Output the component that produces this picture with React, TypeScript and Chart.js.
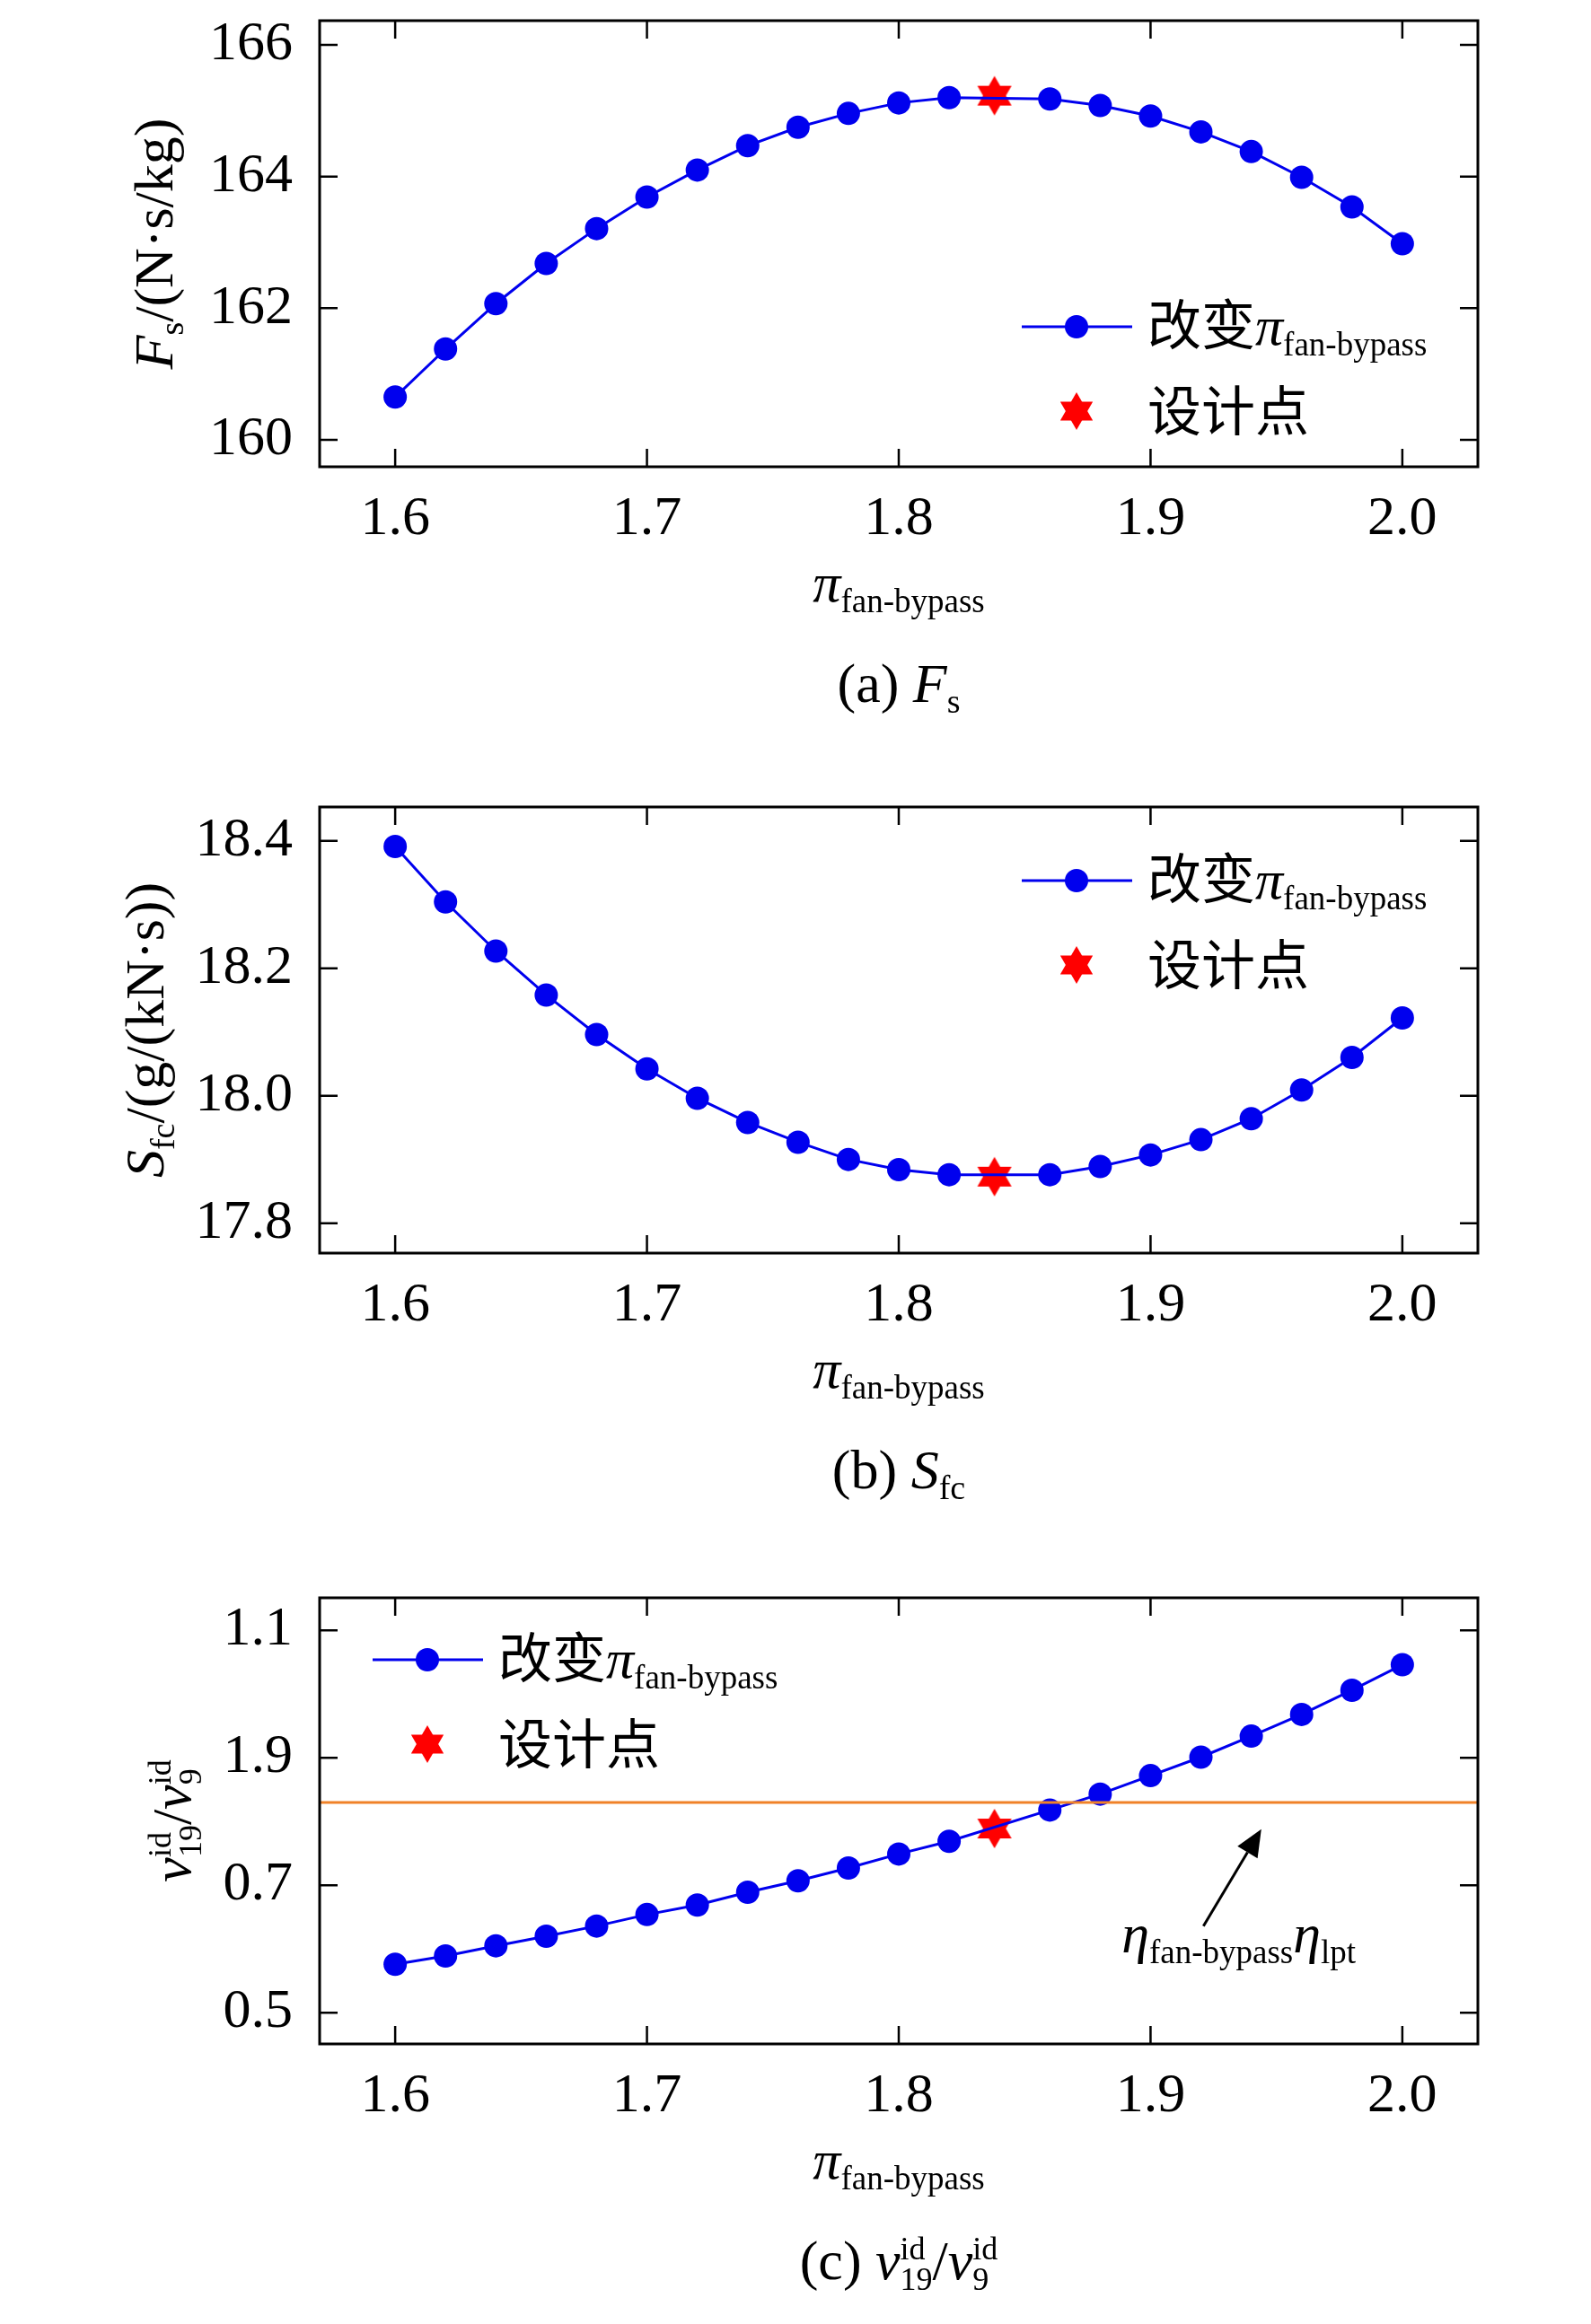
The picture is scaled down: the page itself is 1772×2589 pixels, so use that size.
import React, { useEffect, useRef } from "react";
import { Chart, registerables } from "chart.js";
Chart.register(...registerables);

const xVals = [1.60,1.62,1.64,1.66,1.68,1.70,1.72,1.74,1.76,1.78,1.80,1.82,1.86,1.88,1.90,1.92,1.94,1.96,1.98,2.00];
const fsVals = [160.65,161.38,162.07,162.68,163.21,163.69,164.10,164.47,164.75,164.96,165.12,165.20,165.18,165.08,164.92,164.68,164.38,163.99,163.54,162.98];
const sfcVals = [18.391,18.304,18.227,18.158,18.096,18.042,17.996,17.958,17.927,17.900,17.884,17.876,17.876,17.889,17.907,17.931,17.964,18.009,18.060,18.122];
const vVals = [0.576,0.589,0.605,0.620,0.636,0.654,0.669,0.689,0.707,0.727,0.749,0.769,0.818,0.843,0.872,0.901,0.934,0.968,1.006,1.046];
const designX = 1.838;
const designFs = 165.23;
const designSfc = 17.873;
const designV = 0.789;
const refLineV = 0.83;
const xTicks = [1.6, 1.7, 1.8, 1.9, 2.0];
const fsTicks = [160, 162, 164, 166];
const sfcTicks = [17.8, 18.0, 18.2, 18.4];
const vTicks = [0.5, 0.7, 0.9, 1.1];
const vTickLabels = ["0.5", "0.7", "1.9", "1.1"];

const SERIF = '"Liberation Serif", "Times New Roman", serif';
const CJK = '"Noto Sans CJK SC", sans-serif';
const BLUE = "#0000ee";
const F = (s: number, it = false) => `${it ? "italic " : ""}${s}px ${SERIF}`;

type Seg = { t?: string; font?: string; dy?: number; stack?: [string, string] };

function richWidth(ctx: CanvasRenderingContext2D, segs: Seg[]) {
  let w = 0;
  for (const s of segs) {
    ctx.font = s.font || F(60);
    if (s.stack) w += Math.max(ctx.measureText(s.stack[0]).width, ctx.measureText(s.stack[1]).width);
    else w += ctx.measureText(s.t || "").width;
  }
  return w;
}
function drawRich(ctx: CanvasRenderingContext2D, segs: Seg[], x: number, y: number, align: "left" | "center") {
  let cx = align === "center" ? x - richWidth(ctx, segs) / 2 : x;
  ctx.textBaseline = "alphabetic";
  ctx.textAlign = "left";
  ctx.fillStyle = "#000";
  for (const s of segs) {
    ctx.font = s.font || F(60);
    if (s.stack) {
      ctx.fillText(s.stack[0], cx, y - 22);
      ctx.fillText(s.stack[1], cx, y + 12);
      cx += Math.max(ctx.measureText(s.stack[0]).width, ctx.measureText(s.stack[1]).width);
    } else {
      ctx.fillText(s.t || "", cx, y + (s.dy || 0));
      cx += ctx.measureText(s.t || "").width;
    }
  }
}

function makeStar(r: number, color: string) {
  const c = document.createElement("canvas");
  c.width = c.height = r * 2 + 2;
  const g = c.getContext("2d")!;
  g.fillStyle = color;
  const cx = r + 1, cy = r + 1;
  for (const off of [-Math.PI / 2, Math.PI / 2]) {
    g.beginPath();
    for (let i = 0; i < 3; i++) {
      const a = off + (i * 2 * Math.PI) / 3;
      const px = cx + r * Math.cos(a), py = cy + r * Math.sin(a);
      i ? g.lineTo(px, py) : g.moveTo(px, py);
    }
    g.closePath();
    g.fill();
  }
  return c;
}

const piSub: Seg[] = [
  { t: "π", font: F(62, true) },
  { t: "fan-bypass", font: F(37), dy: 12 },
];

type Cfg = {
  top: number;
  values: number[];
  dy: number;
  ymin: number;
  ymax: number;
  yticks: number[];
  ylabels: string[];
  yTitle: Seg[];
  yTitleX: number;
  caption: Seg[];
  legendX: number;
  legendY: number;
  refLine?: boolean;
};

const PL = 356, PR = 1646, PH = 515, PT = 5, CH = 810;

const panels: Cfg[] = [
  {
    top: 0, values: fsVals, dy: designFs, ymin: 159.59, ymax: 166.37, yticks: fsTicks,
    ylabels: fsTicks.map(String),
    yTitle: [{ t: "F", font: F(62, true) }, { t: "s", font: F(38), dy: 12 }, { t: "/(N·s/kg)", font: F(62) }],
    yTitleX: 172,
    caption: [{ t: "(a) ", font: F(62) }, { t: "F", font: F(62, true) }, { t: "s", font: F(38), dy: 12 }],
    legendX: 782, legendY: 341,
  },
  {
    top: 876, values: sfcVals, dy: designSfc, ymin: 17.753, ymax: 18.453, yticks: sfcTicks,
    ylabels: sfcTicks.map((v) => v.toFixed(1)),
    yTitle: [{ t: "S", font: F(62, true) }, { t: "fc", font: F(38), dy: 12 }, { t: "/(g/(kN·s))", font: F(62) }],
    yTitleX: 162,
    caption: [{ t: "(b) ", font: F(62) }, { t: "S", font: F(62, true) }, { t: "fc", font: F(38), dy: 12 }],
    legendX: 782, legendY: 82,
  },
  {
    top: 1757, values: vVals, dy: designV, ymin: 0.451, ymax: 1.151, yticks: vTicks,
    ylabels: vTickLabels,
    yTitle: [{ t: "v", font: F(62, true) }, { stack: ["id", "19"], font: F(36) }, { t: "/", font: F(62) }, { t: "v", font: F(62, true) }, { stack: ["id", "9"], font: F(36) }],
    yTitleX: 192,
    caption: [{ t: "(c) ", font: F(62) }, { t: "v", font: F(62, true) }, { stack: ["id", "19"], font: F(36) }, { t: "/", font: F(62) }, { t: "v", font: F(62, true) }, { stack: ["id", "9"], font: F(36) }],
    legendX: 59, legendY: 69, refLine: true,
  },
];

function Panel({ cfg }: { cfg: Cfg }) {
  const ref = useRef<HTMLCanvasElement>(null);
  useEffect(() => {
    const star = makeStar(22, "#ff0000");
    const legendStar = makeStar(21, "#ff0000");
    const deco = {
      id: "deco",
      afterDraw(chart: any) {
        const ctx: CanvasRenderingContext2D = chart.ctx;
        const a = chart.chartArea;
        const xs = chart.scales.x, ys = chart.scales.y;
        ctx.save();
        ctx.strokeStyle = "#000";
        ctx.lineWidth = 3;
        ctx.strokeRect(a.left, a.top, a.right - a.left, a.bottom - a.top);
        ctx.lineWidth = 2.5;
        ctx.beginPath();
        for (const v of xTicks) {
          const p = xs.getPixelForValue(v);
          ctx.moveTo(p, a.bottom); ctx.lineTo(p, a.bottom - 20);
          ctx.moveTo(p, a.top); ctx.lineTo(p, a.top + 20);
        }
        for (const v of cfg.yticks) {
          const p = ys.getPixelForValue(v);
          ctx.moveTo(a.left, p); ctx.lineTo(a.left + 20, p);
          ctx.moveTo(a.right, p); ctx.lineTo(a.right - 20, p);
        }
        ctx.stroke();
        const lx = a.left + cfg.legendX, ly = a.top + cfg.legendY;
        ctx.strokeStyle = BLUE; ctx.lineWidth = 3;
        ctx.beginPath(); ctx.moveTo(lx, ly); ctx.lineTo(lx + 123, ly); ctx.stroke();
        ctx.fillStyle = BLUE;
        ctx.beginPath(); ctx.arc(lx + 61, ly, 13, 0, Math.PI * 2); ctx.fill();
        const tx = lx + 140;
        drawRich(ctx, [{ t: "改变", font: `60px ${CJK}` }, ...piSub], tx, ly + 20, "left");
        ctx.drawImage(legendStar, lx + 61 - 22, ly + 94 - 22);
        drawRich(ctx, [{ t: "设计点", font: `60px ${CJK}` }], tx, ly + 116, "left");
        const midX = (a.left + a.right) / 2;
        drawRich(ctx, piSub, midX, a.bottom + 150, "center");
        drawRich(ctx, cfg.caption, midX, a.bottom + 262, "center");
        ctx.save();
        ctx.translate(cfg.yTitleX, (a.top + a.bottom) / 2);
        ctx.rotate(-Math.PI / 2);
        drawRich(ctx, cfg.yTitle, 0, 20, "center");
        ctx.restore();
        if (cfg.refLine) {
          const x0 = xs.getPixelForValue(1.921), y0 = ys.getPixelForValue(0.636);
          const x1 = xs.getPixelForValue(1.944), y1 = ys.getPixelForValue(0.788);
          ctx.strokeStyle = "#000"; ctx.fillStyle = "#000"; ctx.lineWidth = 3;
          const ang = Math.atan2(y1 - y0, x1 - x0);
          const hx = x1 - 30 * Math.cos(ang), hy = y1 - 30 * Math.sin(ang);
          ctx.beginPath(); ctx.moveTo(x0, y0); ctx.lineTo(hx, hy); ctx.stroke();
          ctx.beginPath();
          ctx.moveTo(x1, y1);
          ctx.lineTo(hx + 13 * Math.sin(ang), hy - 13 * Math.cos(ang));
          ctx.lineTo(hx - 13 * Math.sin(ang), hy + 13 * Math.cos(ang));
          ctx.closePath(); ctx.fill();
          drawRich(ctx, [
            { t: "η", font: F(62, true) }, { t: "fan-bypass", font: F(37), dy: 12 },
            { t: "η", font: F(62, true) }, { t: "lpt", font: F(37), dy: 12 },
          ], xs.getPixelForValue(1.935), ys.getPixelForValue(0.595), "center");
        }
        ctx.restore();
      },
    };
    const datasets: any[] = [];
    if (cfg.refLine) {
      datasets.push({
        data: [{ x: 1.5, y: refLineV }, { x: 2.1, y: refLineV }],
        borderColor: "#f08228", borderWidth: 3, pointRadius: 0, showLine: true,
      });
    }
    datasets.push({
      data: xVals.map((x, i) => ({ x, y: cfg.values[i] })),
      borderColor: BLUE, backgroundColor: BLUE, borderWidth: 3,
      pointRadius: 13, pointBorderWidth: 0, showLine: true,
    });
    datasets.push({
      data: [{ x: designX, y: cfg.dy }],
      pointStyle: star, pointRadius: 22, showLine: false,
    });
    const chart = new Chart(ref.current!, {
      type: "scatter",
      data: { datasets },
      plugins: [deco],
      options: {
        animation: false,
        responsive: false,
        layout: { padding: { left: 0, right: 1772 - PR, top: PT, bottom: CH - PT - PH - 80 } },
        plugins: { legend: { display: false }, tooltip: { enabled: false } },
        scales: {
          x: {
            type: "linear", min: 1.57, max: 2.03,
            grid: { display: false }, border: { display: false },
            afterBuildTicks: (s: any) => { s.ticks = xTicks.map((v) => ({ value: v })); },
            afterFit: (s: any) => { s.height = 80; s.paddingLeft = 0; s.paddingRight = 0; },
            ticks: { font: { family: SERIF, size: 62 }, color: "#000", padding: 14, maxRotation: 0, callback: (v: any) => Number(v).toFixed(1) },
          },
          y: {
            type: "linear", min: cfg.ymin, max: cfg.ymax,
            grid: { display: false }, border: { display: false },
            afterBuildTicks: (s: any) => { s.ticks = cfg.yticks.map((v) => ({ value: v })); },
            afterFit: (s: any) => { s.width = PL; s.paddingTop = 0; s.paddingBottom = 0; },
            ticks: {
              font: { family: SERIF, size: 62 }, color: "#000", padding: 22,
              callback: (v: any) => { const i = cfg.yticks.findIndex((t) => Math.abs(t - v) < 1e-6); return i >= 0 ? cfg.ylabels[i] : ""; },
            },
          },
        },
      } as any,
    });
    return () => chart.destroy();
  }, []);
  return <canvas ref={ref} width={1772} height={CH} style={{ position: "absolute", left: 0, top: cfg.top, width: 1772, height: CH }} />;
}

export default function App() {
  return (
    <div style={{ position: "absolute", left: 0, top: 0, width: 1772, height: 2589, background: "#fff" }}>
      {panels.map((p, i) => <Panel key={i} cfg={p} />)}
    </div>
  );
}
